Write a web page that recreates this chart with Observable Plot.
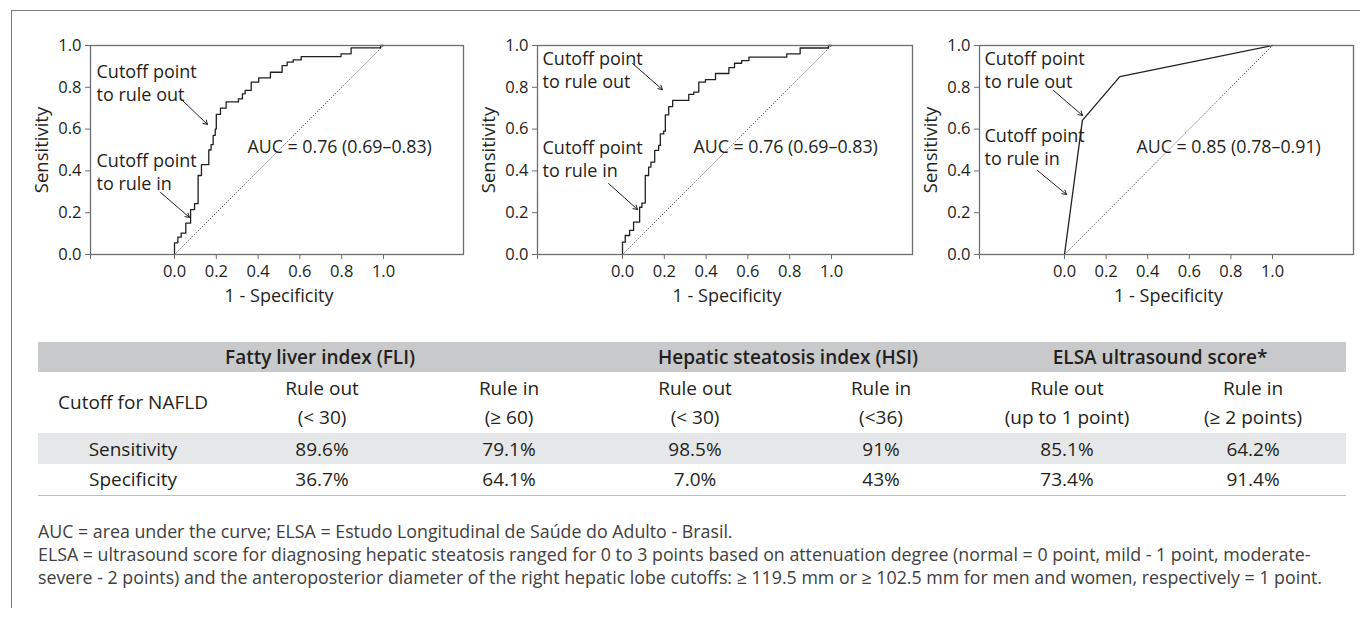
<!DOCTYPE html>
<html><head><meta charset="utf-8">
<script src="https://cdn.jsdelivr.net/npm/d3@7"></script>
<script src="https://cdn.jsdelivr.net/npm/@observablehq/plot@0.6"></script>
<style>
html,body{margin:0;padding:0;background:#fff;}
#page{position:relative;width:1360px;height:619px;overflow:hidden;font-family:'Open Sans','Noto Sans',sans-serif;color:#231f20;background:#fff;}
.bt{position:absolute;left:11px;top:10px;width:1349px;height:0;border-top:1.5px solid #7a7a7a;}
.bl{position:absolute;left:11px;top:10px;width:0;height:598px;border-left:1.5px solid #7a7a7a;}
.panel{position:absolute;top:0;}
table{position:absolute;left:38px;top:342px;border-collapse:collapse;table-layout:fixed;width:1308px;font-size:19px;}
td{padding:0;text-align:center;vertical-align:middle;white-space:nowrap;}
tr.hd{height:30px;background:#c8c9ca;font-weight:600;}
tr.ct{height:61px;line-height:29px;}
tr.se{height:31px;background:#e6e7e8;}
tr.sp{height:31px;border-bottom:1.5px solid #bdbdbd;}
.notes{position:absolute;left:38px;top:520px;font-size:17.8px;line-height:23px;color:#404040;white-space:nowrap;}
</style></head>
<body><div id="page">
<div class="bt"></div><div class="bl"></div>
<div id="p0" class="panel"></div><div id="p1" class="panel"></div><div id="p2" class="panel"></div>
<table id="tbl"></table>
<div id="notes" class="notes"></div>
</div>
<script>
// ---------- data ----------
const xTicks = [0, 0.2, 0.4, 0.6, 0.8, 1.0];
const yTicks = [0, 0.2, 0.4, 0.6, 0.8, 1.0];

const fliFpr = [0, 0, 0.016, 0.032, 0.054, 0.077, 0.096, 0.113, 0.129, 0.164, 0.175, 0.185, 0.195, 0.2, 0.22, 0.247, 0.306, 0.325, 0.338, 0.367, 0.403, 0.459, 0.515, 0.539, 0.568, 0.606, 0.797, 0.845, 0.986, 1];
const fliTpr = [0, 0.056, 0.083, 0.102, 0.15, 0.215, 0.243, 0.378, 0.43, 0.50, 0.526, 0.57, 0.60, 0.67, 0.70, 0.73, 0.745, 0.769, 0.785, 0.825, 0.845, 0.872, 0.904, 0.92, 0.931, 0.947, 0.96, 0.989, 1, 1];

const hsiFpr = [0, 0, 0.013, 0.034, 0.053, 0.082, 0.093, 0.109, 0.125, 0.136, 0.154, 0.173, 0.181, 0.197, 0.205, 0.221, 0.24, 0.317, 0.341, 0.365, 0.397, 0.445, 0.509, 0.536, 0.57, 0.605, 0.786, 0.85, 0.985, 1];
const hsiTpr = [0, 0.059, 0.091, 0.115, 0.155, 0.226, 0.246, 0.378, 0.418, 0.442, 0.498, 0.522, 0.577, 0.59, 0.668, 0.708, 0.737, 0.766, 0.777, 0.825, 0.837, 0.866, 0.894, 0.915, 0.928, 0.944, 0.96, 0.988, 1, 1];

const elsaFpr = [0, 0.086, 0.266, 1];
const elsaTpr = [0, 0.642, 0.851, 1];

const aucLabels = ["AUC = 0.76 (0.69\u20130.83)", "AUC = 0.76 (0.69\u20130.83)", "AUC = 0.85 (0.78\u20130.91)"];
const noteRuleOut = "Cutoff point\nto rule out";
const noteRuleIn = "Cutoff point\nto rule in";
const xLabel = "1 - Specificity";
const yLabel = "Sensitivity";

const tableGroups = ["Fatty liver index (FLI)", "Hepatic steatosis index (HSI)", "ELSA ultrasound score*"];
const groupSpans = [3, 2, 2];
const cutoffLabel = "Cutoff for NAFLD";
const cutoffRule = ["Rule out", "Rule in", "Rule out", "Rule in", "Rule out", "Rule in"];
const cutoffThreshold = ["(< 30)", "(\u2265 60)", "(< 30)", "(<36)", "(up to 1 point)", "(\u2265 2 points)"];
const rowLabels = ["Sensitivity", "Specificity"];
const sensitivity = ["89.6%", "79.1%", "98.5%", "91%", "85.1%", "64.2%"];
const specificity = ["36.7%", "64.1%", "7.0%", "43%", "73.4%", "91.4%"];

const footnotes = [
  "AUC = area under the curve; ELSA = Estudo Longitudinal de Sa\u00fade do Adulto - Brasil.",
  "ELSA = ultrasound score for diagnosing hepatic steatosis ranged for 0 to 3 points based on attenuation degree (normal = 0 point, mild - 1 point, moderate-",
  "severe - 2 points) and the anteroposterior diameter of the right hepatic lobe cutoffs: \u2265 119.5 mm or \u2265 102.5 mm for men and women, respectively = 1 point."
];

// ---------- layout (pixels / annotation placement) ----------
const panels = [
  {id: "p0", left: 90, right: 463, zero: 174, one: 383, fpr: fliFpr, tpr: fliTpr, curve: "step-after",
   outDy: 36.5, inDy: 125.5, noteDx: 6, aucDx: 157,
   arrows: [[0.029, 0.746, 0.158, 0.622], [-0.067, 0.297, 0.072, 0.177]]},
  {id: "p1", left: 537, right: 912, zero: 622, one: 831, fpr: hsiFpr, tpr: hsiTpr, curve: "step-after",
   outDy: 24, inDy: 112.5, noteDx: 5, aucDx: 156,
   arrows: [[0.048, 0.914, 0.191, 0.789], [-0.067, 0.34, 0.072, 0.215]]},
  {id: "p2", left: 979, right: 1353, zero: 1064, one: 1272, fpr: elsaFpr, tpr: elsaTpr, curve: "linear",
   outDy: 24, inDy: 101, noteDx: 5, aucDx: 157,
   arrows: [[-0.053, 0.785, 0.087, 0.665], [-0.13, 0.402, 0.01, 0.287]]}
];

const FONT = "'Open Sans','Noto Sans',sans-serif";
const INK = "#231f20";
const AXIS = "#6d6e70";
const fmt = d3.format(".1f");

panels.forEach((p, i) => {
  const mL = 90, mR = 12, mT = 45, mB = 66, H = 320;
  const W = mL + (p.right - p.left) + mR;
  const unit = p.one - p.zero;
  const x0 = (p.left - p.zero) / unit, x1 = (p.right - p.zero) / unit;
  const pts = p.fpr.map((f, k) => ({fpr: f, tpr: p.tpr[k]}));
  const diag = [{x1: 0, y1: 0, x2: 1, y2: 1}];
  const arr = p.arrows.map(a => ({x1: a[0], y1: a[1], x2: a[2], y2: a[3]}));
  const chart = Plot.plot({
    width: W, height: H, marginLeft: mL, marginRight: mR, marginTop: mT, marginBottom: mB,
    style: {fontFamily: FONT, fontSize: "16.5px", color: INK, background: "none", overflow: "visible"},
    x: {domain: [x0, x1], axis: null},
    y: {domain: [0, 1], axis: null},
    marks: [
      Plot.link(diag, {x1: "x1", y1: "y1", x2: "x2", y2: "y2", stroke: "#333", strokeWidth: 0.9, strokeDasharray: "1.2,1.6"}),
      Plot.line(pts, {x: "fpr", y: "tpr", curve: p.curve, stroke: INK, strokeWidth: 1.3}),
      Plot.frame({stroke: AXIS, strokeWidth: 1.3}),
      Plot.axisY({ticks: yTicks, tickFormat: fmt, tickSize: 5, tickPadding: 4, stroke: AXIS, label: null, fontSize: 16.5}),
      Plot.axisX({ticks: [x0, ...xTicks], tickFormat: d => xTicks.includes(d) ? fmt(d) : "", tickSize: 5, tickPadding: 6, stroke: AXIS, label: null, fontSize: 16.5}),
      Plot.text([yLabel], {frameAnchor: "left", rotate: -90, dx: -48, textAnchor: "middle", lineAnchor: "middle", fontSize: 18.5}),
      Plot.text([xLabel], {x: () => d3.mean(xTicks), frameAnchor: "bottom", dy: 42, textAnchor: "middle", lineAnchor: "middle", fontSize: 18}),
      Plot.text([noteRuleOut], {frameAnchor: "top-left", dx: p.noteDx, dy: p.outDy, textAnchor: "start", lineAnchor: "middle", lineHeight: 1.28, fontSize: 18}),
      Plot.text([noteRuleIn], {frameAnchor: "top-left", dx: p.noteDx, dy: p.inDy, textAnchor: "start", lineAnchor: "middle", lineHeight: 1.28, fontSize: 18}),
      Plot.text([aucLabels[i]], {frameAnchor: "top-left", dx: p.aucDx, dy: 102, textAnchor: "start", lineAnchor: "middle", fontSize: 17.8}),
      Plot.arrow(arr, {x1: "x1", y1: "y1", x2: "x2", y2: "y2", stroke: INK, strokeWidth: 1, headLength: 7})
    ]
  });
  const host = document.getElementById(p.id);
  host.style.left = (p.left - mL) + "px";
  host.style.width = W + "px";
  host.appendChild(chart);
});

// ---------- table ----------
const tbl = document.getElementById("tbl");
const colW = [190, 188, 186, 186, 186, 186, 186];
let html = "<colgroup>" + colW.map(w => `<col style="width:${w}px">`).join("") + "</colgroup>";
html += '<tr class="hd">' + tableGroups.map((g, k) => `<td colspan="${groupSpans[k]}">${g}</td>`).join("") + "</tr>";
html += '<tr class="ct"><td>' + cutoffLabel + "</td>" + cutoffRule.map((r, k) => `<td>${r}<br>${cutoffThreshold[k].replace(/</g, "&lt;")}</td>`).join("") + "</tr>";
html += '<tr class="se"><td>' + rowLabels[0] + "</td>" + sensitivity.map(v => `<td>${v}</td>`).join("") + "</tr>";
html += '<tr class="sp"><td>' + rowLabels[1] + "</td>" + specificity.map(v => `<td>${v}</td>`).join("") + "</tr>";
tbl.innerHTML = html;

document.getElementById("notes").innerHTML = footnotes.map(t => `<div>${t}</div>`).join("");
</script>
</body></html>
